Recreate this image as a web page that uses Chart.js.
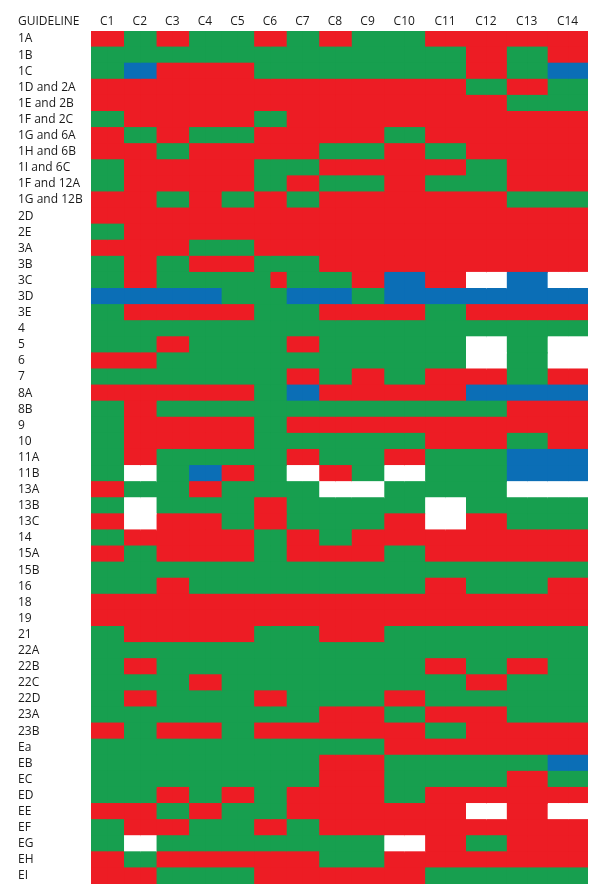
<!DOCTYPE html>
<html>
<head>
<meta charset="utf-8">
<script src="https://cdn.jsdelivr.net/npm/chart.js@4"></script>
<style>
  html, body { margin: 0; padding: 0; background: #ffffff; }
  #wrap { width: 600px; height: 892px; }
</style>
</head>
<body>
<div id="wrap"><canvas id="chart" width="600" height="892"></canvas></div>
<script>
// ---------- DATA ----------
const cornerLabel = 'GUIDELINE';
const criteria = ['C1','C2','C3','C4','C5','C6','C7','C8','C9','C10','C11','C12','C13','C14'];
const guidelines = [
  '1A','1B','1C','1D and 2A','1E and 2B','1F and 2C','1G and 6A','1H and 6B','1I and 6C',
  '1F and 12A','1G and 12B','2D','2E','3A','3B','3C','3D','3E','4','5','6','7','8A','8B',
  '9','10','11A','11B','13A','13B','13C','14','15A','15B','16','18','19','21','22A','22B',
  '22C','22D','23A','23B','Ea','EB','EC','ED','EE','EF','EG','EH','EI'
];
// G = green, R = red, B = blue, W = blank; "G/R" = left half green, right half red
const status = [
  'R G R G G R G R G G R R R R',   // 1A
  'G G G G G G G G G G G R G R',   // 1B
  'G B R R R G G G G G G R G B',   // 1C
  'R R R R R R R R R R R G R G',   // 1D and 2A
  'R R R R R R R R R R R R G G',   // 1E and 2B
  'G R R R R G R R R R R R R R',   // 1F and 2C
  'R G R G G R R R R G R R R R',   // 1G and 6A
  'R R G R R R R G G R G R R R',   // 1H and 6B
  'G R R R R G G R R R R G R R',   // 1I and 6C
  'G R R R R G R G G R G G R R',   // 1F and 12A
  'R R G R G R G R R R R R G G',   // 1G and 12B
  'R R R R R R R R R R R R R R',   // 2D
  'G R R R R R R R R R R R R R',   // 2E
  'R R R G G R R R R R R R R R',   // 3A
  'G R G R R G G R R R R R R R',   // 3B
  'G R G G G G/R G G R B R W B W', // 3C
  'B B B B G G B B G B B B B B',   // 3D
  'G R R R R G G R R R G R R R',   // 3E
  'G G G G G G G G G G G G G G',   // 4
  'G G R G G G R G G G G W G W',   // 5
  'R R G G G G G G G G G W G W',   // 6
  'G G G G G G R G R G R R G R',   // 7
  'R R R R R G B R R R R B B B',   // 8A
  'G R G G G G G G G G G G R R',   // 8B
  'G R R R R G R R R R R R R R',   // 9
  'G R R R R G G G G G R R G R',   // 10
  'G R G G G G R G G R G G B B',   // 11A
  'G W G B R G W R G W G G B B',   // 11B
  'R G G R G G G W W G G G W W',   // 13A
  'G W G G G R G G G G W G G G',   // 13B
  'R W R R G R G G G R W R G G',   // 13C
  'G R R R R G R G R R R R R R',   // 14
  'R G R R R G R R R G R R R R',   // 15A
  'G G G G G G G G G G G G G G',   // 15B
  'G G R G G G G G G G R G G R',   // 16
  'R R R R R R R R R R R R R R',   // 18
  'R R R R R R R R R R R R R R',   // 19
  'G R R R R G G R R G G G G G',   // 21
  'G G G G G G G G G G G G G G',   // 22A
  'G R G G G G G G G G R G R G',   // 22B
  'G G G R G G G G G G G R G G',   // 22C
  'G R G G G R G G G R G G G G',   // 22D
  'G G G G G G G R R G R R G G',   // 23A
  'R G R R G R R R R R G R R R',   // 23B
  'G G G G G G G G G R R R R R',   // Ea
  'G G G G G G G R R G G G G B',   // EB
  'G G G G G G G R R G G G R G',   // EC
  'G G R G R G R R R G R R R R',   // ED
  'R R G R G G R R R R R W R W',   // EE
  'G R R G G R G R R R R R R R',   // EF
  'G W G G G G G G G W R G R R',   // EG
  'R G R R R R R G G R R R R R',   // EH
  'R R G G G R R R R R G G G G'    // EI
];

// ---------- STYLE / LAYOUT ----------
const COLORS = { G: '#179F4F', R: '#ED1C24', B: '#0B6EB6', W: '#FFFFFF' };
const LAYOUT = { narrowColumn: 32.5, wideColumn: 40.8, labelLeft: 18, plotLeft: 91, plotTop: 31, padRight: 12, padBottom: 8 };
const FONT = { family: '"Open Sans", "Noto Sans", sans-serif', size: 12 };
const TEXT_COLOR = '#1a1a1a';
const TICK_PAD = 2;

// column widths follow the header text length, like an auto-layout table
const colWidths = criteria.map(c => c.length > 2 ? LAYOUT.wideColumn : LAYOUT.narrowColumn);
const totalWidth = colWidths.reduce((a, b) => a + b, 0);
const colCenters = colWidths.map((w, i) => colWidths.slice(0, i).reduce((a, b) => a + b, 0) + w / 2);

const cells = status.map(s => s.trim().split(/\s+/));
function halfCode(code, half) {
  const parts = code.split('/');
  return parts.length > 1 ? parts[half] : parts[0];
}

const datasets = [];
criteria.forEach((c, ci) => {
  [0, 1].forEach(half => {
    datasets.push({
      label: c + (half ? 'b' : 'a'),
      data: guidelines.map(() => colWidths[ci] / 2),
      backgroundColor: guidelines.map((g, ri) => COLORS[halfCode(cells[ri][ci], half)]),
      borderWidth: 0,
      inflateAmount: 0.5,
      barPercentage: 1,
      categoryPercentage: 1
    });
  });
});

const cornerPlugin = {
  id: 'corner',
  afterDraw(chart) {
    const ctx = chart.ctx;
    const xs = chart.scales.x;
    const lineH = FONT.size * 1.2;
    ctx.save();
    ctx.font = FONT.size + 'px ' + FONT.family;
    ctx.fillStyle = TEXT_COLOR;
    ctx.textAlign = 'left';
    ctx.textBaseline = 'middle';
    ctx.fillText(cornerLabel, LAYOUT.labelLeft, xs.bottom - TICK_PAD - lineH / 2);
    ctx.restore();
  }
};

Chart.defaults.font.family = FONT.family;
Chart.defaults.font.size = FONT.size;
Chart.defaults.color = TEXT_COLOR;

new Chart(document.getElementById('chart'), {
  type: 'bar',
  data: { labels: guidelines, datasets },
  plugins: [cornerPlugin],
  options: {
    indexAxis: 'y',
    responsive: false,
    animation: false,
    maintainAspectRatio: false,
    layout: { padding: { left: LAYOUT.labelLeft, right: LAYOUT.padRight, top: 0, bottom: LAYOUT.padBottom } },
    plugins: { legend: { display: false }, tooltip: { enabled: false }, title: { display: false } },
    scales: {
      x: {
        type: 'linear',
        position: 'top',
        stacked: true,
        min: 0,
        max: totalWidth,
        grid: { display: false, drawTicks: false },
        border: { display: false },
        afterBuildTicks: axis => { axis.ticks = colCenters.map(v => ({ value: v })); },
        afterFit: axis => { axis.height = LAYOUT.plotTop; },
        ticks: {
          autoSkip: false,
          maxRotation: 0,
          padding: TICK_PAD,
          color: TEXT_COLOR,
          font: FONT,
          callback: (v, i) => criteria[i]
        }
      },
      y: {
        type: 'category',
        stacked: true,
        grid: { display: false, drawTicks: false },
        border: { display: false },
        afterFit: axis => { axis.width = LAYOUT.plotLeft - LAYOUT.labelLeft; },
        ticks: {
          autoSkip: false,
          crossAlign: 'far',
          padding: 0,
          color: TEXT_COLOR,
          font: FONT
        }
      }
    }
  }
});
</script>
</body>
</html>
